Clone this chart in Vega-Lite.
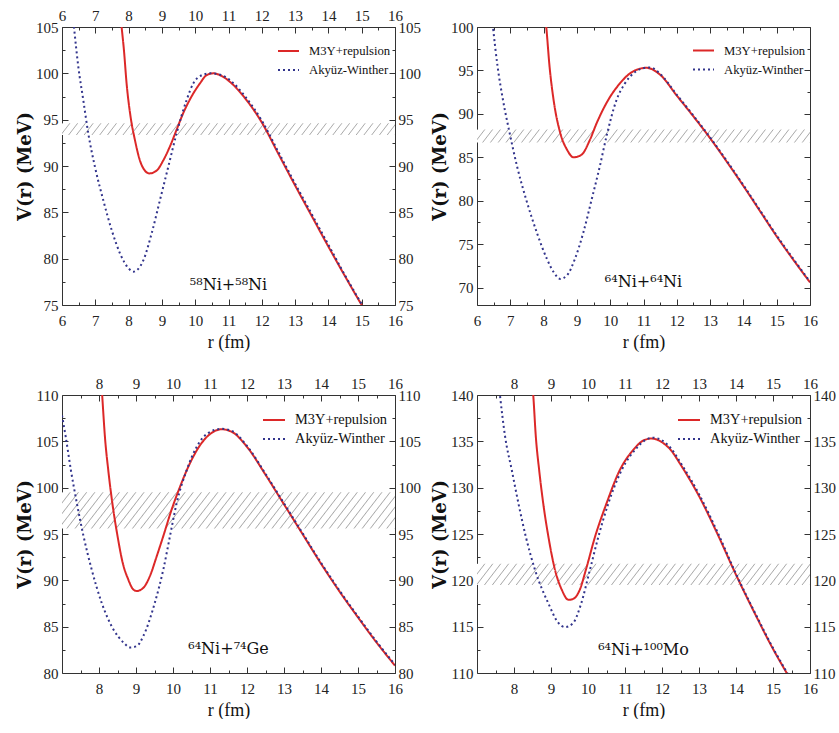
{
"$schema":"https://vega.github.io/schema/vega-lite/v6.json",
"background":"white",
"padding":{"left":16,"top":5,"right":0,"bottom":0},
"datasets":{
"bands":[
{"p":1,"r0":6,"r1":16,"v0":93.35,"v1":94.6},
{"p":2,"r0":6,"r1":16,"v0":86.7,"v1":88.2},
{"p":3,"r0":7,"r1":16,"v0":95.6,"v1":99.5},
{"p":4,"r0":7,"r1":16,"v0":119.5,"v1":121.8}],
"labels":[
{"p":1,"r":11.0,"V":77.15,"label":"⁵⁸Ni+⁵⁸Ni"},
{"p":2,"r":11.0,"V":70.6,"label":"⁶⁴Ni+⁶⁴Ni"},
{"p":3,"r":11.5,"V":82.6,"label":"⁶⁴Ni+⁷⁴Ge"},
{"p":4,"r":11.5,"V":112.5,"label":"⁶⁴Ni+¹⁰⁰Mo"}],
"c1":[
{"model":"M3Y+repulsion","r":7.72,"V":107.5},{"model":"M3Y+repulsion","r":7.79,"V":105.0},{"model":"M3Y+repulsion","r":7.86,"V":102.5},{"model":"M3Y+repulsion","r":7.94,"V":98.9},{"model":"M3Y+repulsion","r":8.06,"V":95.3},{"model":"M3Y+repulsion","r":8.19,"V":92.8},{"model":"M3Y+repulsion","r":8.34,"V":90.6},{"model":"M3Y+repulsion","r":8.49,"V":89.5},{"model":"M3Y+repulsion","r":8.62,"V":89.2},{"model":"M3Y+repulsion","r":8.84,"V":89.5},{"model":"M3Y+repulsion","r":9.04,"V":90.6},{"model":"M3Y+repulsion","r":9.24,"V":92.1},{"model":"M3Y+repulsion","r":9.44,"V":93.9},{"model":"M3Y+repulsion","r":9.64,"V":95.7},{"model":"M3Y+repulsion","r":9.89,"V":97.5},{"model":"M3Y+repulsion","r":10.14,"V":98.9},{"model":"M3Y+repulsion","r":10.34,"V":99.8},{"model":"M3Y+repulsion","r":10.54,"V":100.0},{"model":"M3Y+repulsion","r":10.8,"V":99.7},{"model":"M3Y+repulsion","r":11.1,"V":98.9},{"model":"M3Y+repulsion","r":11.5,"V":97.3},{"model":"M3Y+repulsion","r":12.0,"V":94.7},{"model":"M3Y+repulsion","r":12.5,"V":91.3},{"model":"M3Y+repulsion","r":13.0,"V":87.9},{"model":"M3Y+repulsion","r":13.5,"V":84.6},{"model":"M3Y+repulsion","r":14.0,"V":81.3},{"model":"M3Y+repulsion","r":14.5,"V":78.1},{"model":"M3Y+repulsion","r":15.0,"V":75.0},{"model":"M3Y+repulsion","r":15.1,"V":74.4},
{"model":"Akyüz-Winther","r":6.3,"V":107.2},{"model":"Akyüz-Winther","r":6.36,"V":105.0},{"model":"Akyüz-Winther","r":6.49,"V":100.7},{"model":"Akyüz-Winther","r":6.64,"V":97.1},{"model":"Akyüz-Winther","r":6.79,"V":93.5},{"model":"Akyüz-Winther","r":6.99,"V":89.9},{"model":"Akyüz-Winther","r":7.24,"V":86.3},{"model":"Akyüz-Winther","r":7.5,"V":83.0},{"model":"Akyüz-Winther","r":7.75,"V":80.5},{"model":"Akyüz-Winther","r":8.0,"V":78.95},{"model":"Akyüz-Winther","r":8.14,"V":78.6},{"model":"Akyüz-Winther","r":8.44,"V":79.8},{"model":"Akyüz-Winther","r":8.69,"V":82.7},{"model":"Akyüz-Winther","r":8.94,"V":86.3},{"model":"Akyüz-Winther","r":9.19,"V":89.9},{"model":"Akyüz-Winther","r":9.44,"V":93.5},{"model":"Akyüz-Winther","r":9.74,"V":97.1},{"model":"Akyüz-Winther","r":9.94,"V":98.9},{"model":"Akyüz-Winther","r":10.2,"V":99.8},{"model":"Akyüz-Winther","r":10.45,"V":100.0},{"model":"Akyüz-Winther","r":10.8,"V":99.8},{"model":"Akyüz-Winther","r":11.1,"V":99.1},{"model":"Akyüz-Winther","r":11.5,"V":97.5},{"model":"Akyüz-Winther","r":12.0,"V":94.9},{"model":"Akyüz-Winther","r":12.5,"V":91.5},{"model":"Akyüz-Winther","r":13.0,"V":88.1},{"model":"Akyüz-Winther","r":13.5,"V":84.8},{"model":"Akyüz-Winther","r":14.0,"V":81.5},{"model":"Akyüz-Winther","r":14.5,"V":78.2},{"model":"Akyüz-Winther","r":15.0,"V":75.1},{"model":"Akyüz-Winther","r":15.1,"V":74.5}],
"c2":[
{"model":"M3Y+repulsion","r":8.04,"V":101.5},{"model":"M3Y+repulsion","r":8.08,"V":100.0},{"model":"M3Y+repulsion","r":8.18,"V":95.4},{"model":"M3Y+repulsion","r":8.3,"V":91.6},{"model":"M3Y+repulsion","r":8.5,"V":87.8},{"model":"M3Y+repulsion","r":8.7,"V":85.9},{"model":"M3Y+repulsion","r":8.9,"V":85.0},{"model":"M3Y+repulsion","r":9.14,"V":85.3},{"model":"M3Y+repulsion","r":9.39,"V":87.0},{"model":"M3Y+repulsion","r":9.59,"V":88.9},{"model":"M3Y+repulsion","r":9.94,"V":91.6},{"model":"M3Y+repulsion","r":10.29,"V":93.5},{"model":"M3Y+repulsion","r":10.59,"V":94.65},{"model":"M3Y+repulsion","r":10.89,"V":95.2},{"model":"M3Y+repulsion","r":11.09,"V":95.3},{"model":"M3Y+repulsion","r":11.5,"V":94.5},{"model":"M3Y+repulsion","r":12.0,"V":92.1},{"model":"M3Y+repulsion","r":12.5,"V":89.7},{"model":"M3Y+repulsion","r":13.0,"V":87.2},{"model":"M3Y+repulsion","r":13.5,"V":84.5},{"model":"M3Y+repulsion","r":14.0,"V":81.7},{"model":"M3Y+repulsion","r":14.5,"V":78.8},{"model":"M3Y+repulsion","r":15.0,"V":75.9},{"model":"M3Y+repulsion","r":15.5,"V":73.2},{"model":"M3Y+repulsion","r":16.0,"V":70.6},
{"model":"Akyüz-Winther","r":6.44,"V":101.5},{"model":"Akyüz-Winther","r":6.48,"V":100.0},{"model":"Akyüz-Winther","r":6.62,"V":95.4},{"model":"Akyüz-Winther","r":6.78,"V":91.6},{"model":"Akyüz-Winther","r":6.98,"V":87.8},{"model":"Akyüz-Winther","r":7.2,"V":84.0},{"model":"Akyüz-Winther","r":7.48,"V":80.1},{"model":"Akyüz-Winther","r":7.8,"V":76.3},{"model":"Akyüz-Winther","r":8.1,"V":73.3},{"model":"Akyüz-Winther","r":8.3,"V":71.8},{"model":"Akyüz-Winther","r":8.5,"V":71.0},{"model":"Akyüz-Winther","r":8.7,"V":71.4},{"model":"Akyüz-Winther","r":8.94,"V":73.3},{"model":"Akyüz-Winther","r":9.19,"V":76.3},{"model":"Akyüz-Winther","r":9.44,"V":80.1},{"model":"Akyüz-Winther","r":9.69,"V":84.0},{"model":"Akyüz-Winther","r":9.9,"V":87.6},{"model":"Akyüz-Winther","r":10.19,"V":91.6},{"model":"Akyüz-Winther","r":10.44,"V":93.5},{"model":"Akyüz-Winther","r":10.74,"V":94.8},{"model":"Akyüz-Winther","r":10.99,"V":95.25},{"model":"Akyüz-Winther","r":11.2,"V":95.35},{"model":"Akyüz-Winther","r":11.5,"V":94.6},{"model":"Akyüz-Winther","r":12.0,"V":92.2},{"model":"Akyüz-Winther","r":12.5,"V":89.8},{"model":"Akyüz-Winther","r":13.0,"V":87.3},{"model":"Akyüz-Winther","r":13.5,"V":84.6},{"model":"Akyüz-Winther","r":14.0,"V":81.8},{"model":"Akyüz-Winther","r":14.5,"V":78.9},{"model":"Akyüz-Winther","r":15.0,"V":76.0},{"model":"Akyüz-Winther","r":15.5,"V":73.3},{"model":"Akyüz-Winther","r":16.0,"V":70.7}],
"c3":[
{"model":"M3Y+repulsion","r":8.07,"V":111.0},{"model":"M3Y+repulsion","r":8.1,"V":109.1},{"model":"M3Y+repulsion","r":8.16,"V":105.5},{"model":"M3Y+repulsion","r":8.25,"V":101.9},{"model":"M3Y+repulsion","r":8.36,"V":98.35},{"model":"M3Y+repulsion","r":8.5,"V":94.8},{"model":"M3Y+repulsion","r":8.64,"V":91.9},{"model":"M3Y+repulsion","r":8.79,"V":90.1},{"model":"M3Y+repulsion","r":8.93,"V":89.0},{"model":"M3Y+repulsion","r":9.02,"V":88.85},{"model":"M3Y+repulsion","r":9.2,"V":89.2},{"model":"M3Y+repulsion","r":9.38,"V":90.5},{"model":"M3Y+repulsion","r":9.56,"V":92.6},{"model":"M3Y+repulsion","r":9.74,"V":94.8},{"model":"M3Y+repulsion","r":9.96,"V":97.6},{"model":"M3Y+repulsion","r":10.19,"V":100.1},{"model":"M3Y+repulsion","r":10.46,"V":102.65},{"model":"M3Y+repulsion","r":10.77,"V":104.8},{"model":"M3Y+repulsion","r":11.04,"V":105.9},{"model":"M3Y+repulsion","r":11.31,"V":106.3},{"model":"M3Y+repulsion","r":11.6,"V":106.0},{"model":"M3Y+repulsion","r":12.0,"V":104.4},{"model":"M3Y+repulsion","r":12.5,"V":101.4},{"model":"M3Y+repulsion","r":13.0,"V":98.2},{"model":"M3Y+repulsion","r":13.5,"V":95.0},{"model":"M3Y+repulsion","r":14.0,"V":91.8},{"model":"M3Y+repulsion","r":14.5,"V":88.8},{"model":"M3Y+repulsion","r":15.0,"V":86.0},{"model":"M3Y+repulsion","r":15.5,"V":83.3},{"model":"M3Y+repulsion","r":16.0,"V":80.8},
{"model":"Akyüz-Winther","r":7.0,"V":107.8},{"model":"Akyüz-Winther","r":7.1,"V":105.5},{"model":"Akyüz-Winther","r":7.24,"V":101.9},{"model":"Akyüz-Winther","r":7.4,"V":98.35},{"model":"Akyüz-Winther","r":7.58,"V":94.8},{"model":"Akyüz-Winther","r":7.8,"V":91.2},{"model":"Akyüz-Winther","r":8.07,"V":87.6},{"model":"Akyüz-Winther","r":8.39,"V":84.7},{"model":"Akyüz-Winther","r":8.66,"V":83.3},{"model":"Akyüz-Winther","r":8.84,"V":82.76},{"model":"Akyüz-Winther","r":9.02,"V":82.9},{"model":"Akyüz-Winther","r":9.2,"V":84.0},{"model":"Akyüz-Winther","r":9.51,"V":87.6},{"model":"Akyüz-Winther","r":9.74,"V":91.2},{"model":"Akyüz-Winther","r":9.92,"V":94.8},{"model":"Akyüz-Winther","r":10.1,"V":98.35},{"model":"Akyüz-Winther","r":10.37,"V":101.9},{"model":"Akyüz-Winther","r":10.64,"V":104.4},{"model":"Akyüz-Winther","r":10.95,"V":105.9},{"model":"Akyüz-Winther","r":11.31,"V":106.35},{"model":"Akyüz-Winther","r":11.6,"V":106.1},{"model":"Akyüz-Winther","r":12.0,"V":104.5},{"model":"Akyüz-Winther","r":12.5,"V":101.5},{"model":"Akyüz-Winther","r":13.0,"V":98.3},{"model":"Akyüz-Winther","r":13.5,"V":95.1},{"model":"Akyüz-Winther","r":14.0,"V":91.9},{"model":"Akyüz-Winther","r":14.5,"V":88.9},{"model":"Akyüz-Winther","r":15.0,"V":86.1},{"model":"Akyüz-Winther","r":15.5,"V":83.4},{"model":"Akyüz-Winther","r":16.0,"V":80.9}],
"c4":[
{"model":"M3Y+repulsion","r":8.5,"V":141.0},{"model":"M3Y+repulsion","r":8.52,"V":140.0},{"model":"M3Y+repulsion","r":8.59,"V":135.5},{"model":"M3Y+repulsion","r":8.68,"V":131.9},{"model":"M3Y+repulsion","r":8.79,"V":128.3},{"model":"M3Y+repulsion","r":8.93,"V":124.7},{"model":"M3Y+repulsion","r":9.11,"V":121.1},{"model":"M3Y+repulsion","r":9.29,"V":119.0},{"model":"M3Y+repulsion","r":9.47,"V":117.9},{"model":"M3Y+repulsion","r":9.6,"V":118.0},{"model":"M3Y+repulsion","r":9.78,"V":119.0},{"model":"M3Y+repulsion","r":9.94,"V":121.1},{"model":"M3Y+repulsion","r":10.19,"V":124.7},{"model":"M3Y+repulsion","r":10.5,"V":128.3},{"model":"M3Y+repulsion","r":10.86,"V":131.9},{"model":"M3Y+repulsion","r":11.23,"V":134.1},{"model":"M3Y+repulsion","r":11.5,"V":135.1},{"model":"M3Y+repulsion","r":11.72,"V":135.3},{"model":"M3Y+repulsion","r":12.0,"V":134.9},{"model":"M3Y+repulsion","r":12.25,"V":134.0},{"model":"M3Y+repulsion","r":12.5,"V":132.5},{"model":"M3Y+repulsion","r":13.0,"V":129.1},{"model":"M3Y+repulsion","r":13.5,"V":125.0},{"model":"M3Y+repulsion","r":14.0,"V":120.6},{"model":"M3Y+repulsion","r":14.5,"V":116.5},{"model":"M3Y+repulsion","r":15.0,"V":112.6},{"model":"M3Y+repulsion","r":15.37,"V":110.0},{"model":"M3Y+repulsion","r":15.5,"V":109.1},
{"model":"Akyüz-Winther","r":7.58,"V":141.5},{"model":"Akyüz-Winther","r":7.62,"V":140.0},{"model":"Akyüz-Winther","r":7.76,"V":135.5},{"model":"Akyüz-Winther","r":7.94,"V":131.9},{"model":"Akyüz-Winther","r":8.12,"V":128.3},{"model":"Akyüz-Winther","r":8.32,"V":124.7},{"model":"Akyüz-Winther","r":8.57,"V":121.1},{"model":"Akyüz-Winther","r":8.93,"V":117.5},{"model":"Akyüz-Winther","r":9.2,"V":115.4},{"model":"Akyüz-Winther","r":9.38,"V":114.95},{"model":"Akyüz-Winther","r":9.6,"V":115.4},{"model":"Akyüz-Winther","r":9.8,"V":117.3},{"model":"Akyüz-Winther","r":10.05,"V":121.1},{"model":"Akyüz-Winther","r":10.28,"V":124.7},{"model":"Akyüz-Winther","r":10.55,"V":128.3},{"model":"Akyüz-Winther","r":10.91,"V":131.9},{"model":"Akyüz-Winther","r":11.32,"V":134.3},{"model":"Akyüz-Winther","r":11.5,"V":135.0},{"model":"Akyüz-Winther","r":11.75,"V":135.4},{"model":"Akyüz-Winther","r":12.0,"V":135.1},{"model":"Akyüz-Winther","r":12.25,"V":134.2},{"model":"Akyüz-Winther","r":12.5,"V":132.7},{"model":"Akyüz-Winther","r":13.0,"V":129.3},{"model":"Akyüz-Winther","r":13.5,"V":125.2},{"model":"Akyüz-Winther","r":14.0,"V":120.7},{"model":"Akyüz-Winther","r":14.5,"V":116.6},{"model":"Akyüz-Winther","r":15.0,"V":112.7},{"model":"Akyüz-Winther","r":15.37,"V":110.1},{"model":"Akyüz-Winther","r":15.5,"V":109.2}]
},
"columns":2,
"spacing":{"row":90,"column":82},
"bounds":"flush",
"resolve":{"scale":{"color":"independent","strokeDash":"independent"},"legend":{"color":"independent","strokeDash":"independent"}},
"concat":[
{"width":333,"height":278,
"resolve":{"axis":{"x":"independent","y":"independent"}},
"layer":[
{"data":{"name":"bands"},"transform":[{"filter":"datum.p == 1"}],
"mark":{"type":"rect","fill":{"gradient":"linear","x1":0,"y1":0,"x2":1.0261,"y2":0.0275,"stops":[{"offset":0,"color":"#aaa"},{"offset":0.003,"color":"#fff"},{"offset":0.0197,"color":"#fff"},{"offset":0.0227,"color":"#aaa"},{"offset":0.0257,"color":"#fff"},{"offset":0.0425,"color":"#fff"},{"offset":0.0455,"color":"#aaa"},{"offset":0.0485,"color":"#fff"},{"offset":0.0652,"color":"#fff"},{"offset":0.0682,"color":"#aaa"},{"offset":0.0712,"color":"#fff"},{"offset":0.0879,"color":"#fff"},{"offset":0.0909,"color":"#aaa"},{"offset":0.0939,"color":"#fff"},{"offset":0.1106,"color":"#fff"},{"offset":0.1136,"color":"#aaa"},{"offset":0.1166,"color":"#fff"},{"offset":0.1334,"color":"#fff"},{"offset":0.1364,"color":"#aaa"},{"offset":0.1394,"color":"#fff"},{"offset":0.1561,"color":"#fff"},{"offset":0.1591,"color":"#aaa"},{"offset":0.1621,"color":"#fff"},{"offset":0.1788,"color":"#fff"},{"offset":0.1818,"color":"#aaa"},{"offset":0.1848,"color":"#fff"},{"offset":0.2015,"color":"#fff"},{"offset":0.2045,"color":"#aaa"},{"offset":0.2075,"color":"#fff"},{"offset":0.2243,"color":"#fff"},{"offset":0.2273,"color":"#aaa"},{"offset":0.2303,"color":"#fff"},{"offset":0.247,"color":"#fff"},{"offset":0.25,"color":"#aaa"},{"offset":0.253,"color":"#fff"},{"offset":0.2697,"color":"#fff"},{"offset":0.2727,"color":"#aaa"},{"offset":0.2757,"color":"#fff"},{"offset":0.2925,"color":"#fff"},{"offset":0.2955,"color":"#aaa"},{"offset":0.2985,"color":"#fff"},{"offset":0.3152,"color":"#fff"},{"offset":0.3182,"color":"#aaa"},{"offset":0.3212,"color":"#fff"},{"offset":0.3379,"color":"#fff"},{"offset":0.3409,"color":"#aaa"},{"offset":0.3439,"color":"#fff"},{"offset":0.3606,"color":"#fff"},{"offset":0.3636,"color":"#aaa"},{"offset":0.3666,"color":"#fff"},{"offset":0.3834,"color":"#fff"},{"offset":0.3864,"color":"#aaa"},{"offset":0.3894,"color":"#fff"},{"offset":0.4061,"color":"#fff"},{"offset":0.4091,"color":"#aaa"},{"offset":0.4121,"color":"#fff"},{"offset":0.4288,"color":"#fff"},{"offset":0.4318,"color":"#aaa"},{"offset":0.4348,"color":"#fff"},{"offset":0.4515,"color":"#fff"},{"offset":0.4545,"color":"#aaa"},{"offset":0.4575,"color":"#fff"},{"offset":0.4743,"color":"#fff"},{"offset":0.4773,"color":"#aaa"},{"offset":0.4803,"color":"#fff"},{"offset":0.497,"color":"#fff"},{"offset":0.5,"color":"#aaa"},{"offset":0.503,"color":"#fff"},{"offset":0.5197,"color":"#fff"},{"offset":0.5227,"color":"#aaa"},{"offset":0.5257,"color":"#fff"},{"offset":0.5425,"color":"#fff"},{"offset":0.5455,"color":"#aaa"},{"offset":0.5485,"color":"#fff"},{"offset":0.5652,"color":"#fff"},{"offset":0.5682,"color":"#aaa"},{"offset":0.5712,"color":"#fff"},{"offset":0.5879,"color":"#fff"},{"offset":0.5909,"color":"#aaa"},{"offset":0.5939,"color":"#fff"},{"offset":0.6106,"color":"#fff"},{"offset":0.6136,"color":"#aaa"},{"offset":0.6166,"color":"#fff"},{"offset":0.6334,"color":"#fff"},{"offset":0.6364,"color":"#aaa"},{"offset":0.6394,"color":"#fff"},{"offset":0.6561,"color":"#fff"},{"offset":0.6591,"color":"#aaa"},{"offset":0.6621,"color":"#fff"},{"offset":0.6788,"color":"#fff"},{"offset":0.6818,"color":"#aaa"},{"offset":0.6848,"color":"#fff"},{"offset":0.7015,"color":"#fff"},{"offset":0.7045,"color":"#aaa"},{"offset":0.7075,"color":"#fff"},{"offset":0.7243,"color":"#fff"},{"offset":0.7273,"color":"#aaa"},{"offset":0.7303,"color":"#fff"},{"offset":0.747,"color":"#fff"},{"offset":0.75,"color":"#aaa"},{"offset":0.753,"color":"#fff"},{"offset":0.7697,"color":"#fff"},{"offset":0.7727,"color":"#aaa"},{"offset":0.7757,"color":"#fff"},{"offset":0.7925,"color":"#fff"},{"offset":0.7955,"color":"#aaa"},{"offset":0.7985,"color":"#fff"},{"offset":0.8152,"color":"#fff"},{"offset":0.8182,"color":"#aaa"},{"offset":0.8212,"color":"#fff"},{"offset":0.8379,"color":"#fff"},{"offset":0.8409,"color":"#aaa"},{"offset":0.8439,"color":"#fff"},{"offset":0.8606,"color":"#fff"},{"offset":0.8636,"color":"#aaa"},{"offset":0.8666,"color":"#fff"},{"offset":0.8834,"color":"#fff"},{"offset":0.8864,"color":"#aaa"},{"offset":0.8894,"color":"#fff"},{"offset":0.9061,"color":"#fff"},{"offset":0.9091,"color":"#aaa"},{"offset":0.9121,"color":"#fff"},{"offset":0.9288,"color":"#fff"},{"offset":0.9318,"color":"#aaa"},{"offset":0.9348,"color":"#fff"},{"offset":0.9515,"color":"#fff"},{"offset":0.9545,"color":"#aaa"},{"offset":0.9575,"color":"#fff"},{"offset":0.9743,"color":"#fff"},{"offset":0.9773,"color":"#aaa"},{"offset":0.9803,"color":"#fff"},{"offset":0.997,"color":"#fff"},{"offset":1,"color":"#aaa"}]}},
"encoding":{
"x":{"field":"r0","type":"quantitative","scale":{"domain":[6,16],"nice":false,"zero":false},"axis":{"orient":"top","title":null,"values":[6,6.5,7,7.5,8,8.5,9,9.5,10,10.5,11,11.5,12,12.5,13,13.5,14,14.5,15,15.5,16],"tickSize":{"condition":{"test":"datum.value % 1 === 0","value":-6},"value":-3},"labelExpr":"datum.value % 1 === 0 ? format(datum.value, 'd') : ''"}},
"x2":{"field":"r1"},
"y":{"field":"v0","type":"quantitative","scale":{"domain":[75,105],"nice":false,"zero":false},"axis":{"orient":"right","title":null,"values":[75,77.5,80,82.5,85,87.5,90,92.5,95,97.5,100,102.5,105],"tickSize":{"condition":{"test":"datum.value % 5 === 0","value":-6},"value":-3},"labelExpr":"datum.value % 5 === 0 ? format(datum.value, 'd') : ''"}},
"y2":{"field":"v1"}}},
{"data":{"name":"c1"},
"mark":{"type":"line","clip":true,"strokeWidth":2,"interpolate":"monotone"},
"encoding":{
"x":{"field":"r","type":"quantitative","scale":{"domain":[6,16],"nice":false,"zero":false},"axis":{"orient":"bottom","title":"r (fm)","values":[6,6.5,7,7.5,8,8.5,9,9.5,10,10.5,11,11.5,12,12.5,13,13.5,14,14.5,15,15.5,16],"tickSize":{"condition":{"test":"datum.value % 1 === 0","value":-6},"value":-3},"labelExpr":"datum.value % 1 === 0 ? format(datum.value, 'd') : ''"}},
"y":{"field":"V","type":"quantitative","scale":{"domain":[75,105],"nice":false,"zero":false},"axis":{"orient":"left","title":"V(r) (MeV)","values":[75,77.5,80,82.5,85,87.5,90,92.5,95,97.5,100,102.5,105],"tickSize":{"condition":{"test":"datum.value % 5 === 0","value":-6},"value":-3},"labelExpr":"datum.value % 5 === 0 ? format(datum.value, 'd') : ''"}},
"color":{"field":"model","type":"nominal","scale":{"domain":["M3Y+repulsion","Akyüz-Winther"],"range":["#dc2828","#32348c"]},"legend":{"title":null,"orient":"none","legendX":215,"legendY":12.5,"labelFont":"Liberation Serif","labelFontSize":12.7,"symbolSize":441}},
"strokeDash":{"field":"model","type":"nominal","scale":{"domain":["M3Y+repulsion","Akyüz-Winther"],"range":[[1,0],[2,3]]},"legend":{"title":null,"orient":"none","legendX":215,"legendY":12.5,"labelFont":"Liberation Serif","labelFontSize":12.7,"symbolSize":441}}}},
{"data":{"name":"labels"},"transform":[{"filter":"datum.p == 1"}],
"mark":{"type":"text","font":"DejaVu Serif","fontSize":16,"color":"#111"},
"encoding":{
"x":{"field":"r","type":"quantitative","scale":{"domain":[6,16],"nice":false,"zero":false},"axis":null},
"y":{"field":"V","type":"quantitative","scale":{"domain":[75,105],"nice":false,"zero":false},"axis":null},
"text":{"field":"label"}}}]},
{"width":333,"height":278,
"resolve":{"axis":{"x":"independent","y":"independent"}},
"layer":[
{"data":{"name":"bands"},"transform":[{"filter":"datum.p == 2"}],
"mark":{"type":"rect","fill":{"gradient":"linear","x1":0,"y1":0,"x2":1.0292,"y2":0.031,"stops":[{"offset":0,"color":"#aaa"},{"offset":0.003,"color":"#fff"},{"offset":0.0197,"color":"#fff"},{"offset":0.0227,"color":"#aaa"},{"offset":0.0257,"color":"#fff"},{"offset":0.0425,"color":"#fff"},{"offset":0.0455,"color":"#aaa"},{"offset":0.0485,"color":"#fff"},{"offset":0.0652,"color":"#fff"},{"offset":0.0682,"color":"#aaa"},{"offset":0.0712,"color":"#fff"},{"offset":0.0879,"color":"#fff"},{"offset":0.0909,"color":"#aaa"},{"offset":0.0939,"color":"#fff"},{"offset":0.1106,"color":"#fff"},{"offset":0.1136,"color":"#aaa"},{"offset":0.1166,"color":"#fff"},{"offset":0.1334,"color":"#fff"},{"offset":0.1364,"color":"#aaa"},{"offset":0.1394,"color":"#fff"},{"offset":0.1561,"color":"#fff"},{"offset":0.1591,"color":"#aaa"},{"offset":0.1621,"color":"#fff"},{"offset":0.1788,"color":"#fff"},{"offset":0.1818,"color":"#aaa"},{"offset":0.1848,"color":"#fff"},{"offset":0.2015,"color":"#fff"},{"offset":0.2045,"color":"#aaa"},{"offset":0.2075,"color":"#fff"},{"offset":0.2243,"color":"#fff"},{"offset":0.2273,"color":"#aaa"},{"offset":0.2303,"color":"#fff"},{"offset":0.247,"color":"#fff"},{"offset":0.25,"color":"#aaa"},{"offset":0.253,"color":"#fff"},{"offset":0.2697,"color":"#fff"},{"offset":0.2727,"color":"#aaa"},{"offset":0.2757,"color":"#fff"},{"offset":0.2925,"color":"#fff"},{"offset":0.2955,"color":"#aaa"},{"offset":0.2985,"color":"#fff"},{"offset":0.3152,"color":"#fff"},{"offset":0.3182,"color":"#aaa"},{"offset":0.3212,"color":"#fff"},{"offset":0.3379,"color":"#fff"},{"offset":0.3409,"color":"#aaa"},{"offset":0.3439,"color":"#fff"},{"offset":0.3606,"color":"#fff"},{"offset":0.3636,"color":"#aaa"},{"offset":0.3666,"color":"#fff"},{"offset":0.3834,"color":"#fff"},{"offset":0.3864,"color":"#aaa"},{"offset":0.3894,"color":"#fff"},{"offset":0.4061,"color":"#fff"},{"offset":0.4091,"color":"#aaa"},{"offset":0.4121,"color":"#fff"},{"offset":0.4288,"color":"#fff"},{"offset":0.4318,"color":"#aaa"},{"offset":0.4348,"color":"#fff"},{"offset":0.4515,"color":"#fff"},{"offset":0.4545,"color":"#aaa"},{"offset":0.4575,"color":"#fff"},{"offset":0.4743,"color":"#fff"},{"offset":0.4773,"color":"#aaa"},{"offset":0.4803,"color":"#fff"},{"offset":0.497,"color":"#fff"},{"offset":0.5,"color":"#aaa"},{"offset":0.503,"color":"#fff"},{"offset":0.5197,"color":"#fff"},{"offset":0.5227,"color":"#aaa"},{"offset":0.5257,"color":"#fff"},{"offset":0.5425,"color":"#fff"},{"offset":0.5455,"color":"#aaa"},{"offset":0.5485,"color":"#fff"},{"offset":0.5652,"color":"#fff"},{"offset":0.5682,"color":"#aaa"},{"offset":0.5712,"color":"#fff"},{"offset":0.5879,"color":"#fff"},{"offset":0.5909,"color":"#aaa"},{"offset":0.5939,"color":"#fff"},{"offset":0.6106,"color":"#fff"},{"offset":0.6136,"color":"#aaa"},{"offset":0.6166,"color":"#fff"},{"offset":0.6334,"color":"#fff"},{"offset":0.6364,"color":"#aaa"},{"offset":0.6394,"color":"#fff"},{"offset":0.6561,"color":"#fff"},{"offset":0.6591,"color":"#aaa"},{"offset":0.6621,"color":"#fff"},{"offset":0.6788,"color":"#fff"},{"offset":0.6818,"color":"#aaa"},{"offset":0.6848,"color":"#fff"},{"offset":0.7015,"color":"#fff"},{"offset":0.7045,"color":"#aaa"},{"offset":0.7075,"color":"#fff"},{"offset":0.7243,"color":"#fff"},{"offset":0.7273,"color":"#aaa"},{"offset":0.7303,"color":"#fff"},{"offset":0.747,"color":"#fff"},{"offset":0.75,"color":"#aaa"},{"offset":0.753,"color":"#fff"},{"offset":0.7697,"color":"#fff"},{"offset":0.7727,"color":"#aaa"},{"offset":0.7757,"color":"#fff"},{"offset":0.7925,"color":"#fff"},{"offset":0.7955,"color":"#aaa"},{"offset":0.7985,"color":"#fff"},{"offset":0.8152,"color":"#fff"},{"offset":0.8182,"color":"#aaa"},{"offset":0.8212,"color":"#fff"},{"offset":0.8379,"color":"#fff"},{"offset":0.8409,"color":"#aaa"},{"offset":0.8439,"color":"#fff"},{"offset":0.8606,"color":"#fff"},{"offset":0.8636,"color":"#aaa"},{"offset":0.8666,"color":"#fff"},{"offset":0.8834,"color":"#fff"},{"offset":0.8864,"color":"#aaa"},{"offset":0.8894,"color":"#fff"},{"offset":0.9061,"color":"#fff"},{"offset":0.9091,"color":"#aaa"},{"offset":0.9121,"color":"#fff"},{"offset":0.9288,"color":"#fff"},{"offset":0.9318,"color":"#aaa"},{"offset":0.9348,"color":"#fff"},{"offset":0.9515,"color":"#fff"},{"offset":0.9545,"color":"#aaa"},{"offset":0.9575,"color":"#fff"},{"offset":0.9743,"color":"#fff"},{"offset":0.9773,"color":"#aaa"},{"offset":0.9803,"color":"#fff"},{"offset":0.997,"color":"#fff"},{"offset":1,"color":"#aaa"}]}},
"encoding":{
"x":{"field":"r0","type":"quantitative","scale":{"domain":[6,16],"nice":false,"zero":false},"axis":{"orient":"top","title":null,"labels":false,"values":[6,6.5,7,7.5,8,8.5,9,9.5,10,10.5,11,11.5,12,12.5,13,13.5,14,14.5,15,15.5,16],"tickSize":{"condition":{"test":"datum.value % 1 === 0","value":-6},"value":-3}}},
"x2":{"field":"r1"},
"y":{"field":"v0","type":"quantitative","scale":{"domain":[68,100],"nice":false,"zero":false},"axis":{"orient":"right","title":null,"labels":false,"values":[70,72.5,75,77.5,80,82.5,85,87.5,90,92.5,95,97.5,100],"tickSize":{"condition":{"test":"datum.value % 5 === 0","value":-6},"value":-3}}},
"y2":{"field":"v1"}}},
{"data":{"name":"c2"},
"mark":{"type":"line","clip":true,"strokeWidth":2,"interpolate":"monotone"},
"encoding":{
"x":{"field":"r","type":"quantitative","scale":{"domain":[6,16],"nice":false,"zero":false},"axis":{"orient":"bottom","title":"r (fm)","values":[6,6.5,7,7.5,8,8.5,9,9.5,10,10.5,11,11.5,12,12.5,13,13.5,14,14.5,15,15.5,16],"tickSize":{"condition":{"test":"datum.value % 1 === 0","value":-6},"value":-3},"labelExpr":"datum.value % 1 === 0 ? format(datum.value, 'd') : ''"}},
"y":{"field":"V","type":"quantitative","scale":{"domain":[68,100],"nice":false,"zero":false},"axis":{"orient":"left","title":"V(r) (MeV)","values":[70,72.5,75,77.5,80,82.5,85,87.5,90,92.5,95,97.5,100],"tickSize":{"condition":{"test":"datum.value % 5 === 0","value":-6},"value":-3},"labelExpr":"datum.value % 5 === 0 ? format(datum.value, 'd') : ''"}},
"color":{"field":"model","type":"nominal","scale":{"domain":["M3Y+repulsion","Akyüz-Winther"],"range":["#dc2828","#32348c"]},"legend":{"title":null,"orient":"none","legendX":215,"legendY":12,"labelFont":"Liberation Serif","labelFontSize":12.7,"symbolSize":441}},
"strokeDash":{"field":"model","type":"nominal","scale":{"domain":["M3Y+repulsion","Akyüz-Winther"],"range":[[1,0],[2,3]]},"legend":{"title":null,"orient":"none","legendX":215,"legendY":12,"labelFont":"Liberation Serif","labelFontSize":12.7,"symbolSize":441}}}},
{"data":{"name":"labels"},"transform":[{"filter":"datum.p == 2"}],
"mark":{"type":"text","font":"DejaVu Serif","fontSize":16,"color":"#111"},
"encoding":{
"x":{"field":"r","type":"quantitative","scale":{"domain":[6,16],"nice":false,"zero":false},"axis":null},
"y":{"field":"V","type":"quantitative","scale":{"domain":[68,100],"nice":false,"zero":false},"axis":null},
"text":{"field":"label"}}}]},
{"width":333,"height":278,
"resolve":{"axis":{"x":"independent","y":"independent"}},
"layer":[
{"data":{"name":"bands"},"transform":[{"filter":"datum.p == 3"}],
"mark":{"type":"rect","fill":{"gradient":"linear","x1":0,"y1":0,"x2":1.0762,"y2":0.0902,"stops":[{"offset":0,"color":"#aaa"},{"offset":0.003,"color":"#fff"},{"offset":0.0197,"color":"#fff"},{"offset":0.0227,"color":"#aaa"},{"offset":0.0257,"color":"#fff"},{"offset":0.0425,"color":"#fff"},{"offset":0.0455,"color":"#aaa"},{"offset":0.0485,"color":"#fff"},{"offset":0.0652,"color":"#fff"},{"offset":0.0682,"color":"#aaa"},{"offset":0.0712,"color":"#fff"},{"offset":0.0879,"color":"#fff"},{"offset":0.0909,"color":"#aaa"},{"offset":0.0939,"color":"#fff"},{"offset":0.1106,"color":"#fff"},{"offset":0.1136,"color":"#aaa"},{"offset":0.1166,"color":"#fff"},{"offset":0.1334,"color":"#fff"},{"offset":0.1364,"color":"#aaa"},{"offset":0.1394,"color":"#fff"},{"offset":0.1561,"color":"#fff"},{"offset":0.1591,"color":"#aaa"},{"offset":0.1621,"color":"#fff"},{"offset":0.1788,"color":"#fff"},{"offset":0.1818,"color":"#aaa"},{"offset":0.1848,"color":"#fff"},{"offset":0.2015,"color":"#fff"},{"offset":0.2045,"color":"#aaa"},{"offset":0.2075,"color":"#fff"},{"offset":0.2243,"color":"#fff"},{"offset":0.2273,"color":"#aaa"},{"offset":0.2303,"color":"#fff"},{"offset":0.247,"color":"#fff"},{"offset":0.25,"color":"#aaa"},{"offset":0.253,"color":"#fff"},{"offset":0.2697,"color":"#fff"},{"offset":0.2727,"color":"#aaa"},{"offset":0.2757,"color":"#fff"},{"offset":0.2925,"color":"#fff"},{"offset":0.2955,"color":"#aaa"},{"offset":0.2985,"color":"#fff"},{"offset":0.3152,"color":"#fff"},{"offset":0.3182,"color":"#aaa"},{"offset":0.3212,"color":"#fff"},{"offset":0.3379,"color":"#fff"},{"offset":0.3409,"color":"#aaa"},{"offset":0.3439,"color":"#fff"},{"offset":0.3606,"color":"#fff"},{"offset":0.3636,"color":"#aaa"},{"offset":0.3666,"color":"#fff"},{"offset":0.3834,"color":"#fff"},{"offset":0.3864,"color":"#aaa"},{"offset":0.3894,"color":"#fff"},{"offset":0.4061,"color":"#fff"},{"offset":0.4091,"color":"#aaa"},{"offset":0.4121,"color":"#fff"},{"offset":0.4288,"color":"#fff"},{"offset":0.4318,"color":"#aaa"},{"offset":0.4348,"color":"#fff"},{"offset":0.4515,"color":"#fff"},{"offset":0.4545,"color":"#aaa"},{"offset":0.4575,"color":"#fff"},{"offset":0.4743,"color":"#fff"},{"offset":0.4773,"color":"#aaa"},{"offset":0.4803,"color":"#fff"},{"offset":0.497,"color":"#fff"},{"offset":0.5,"color":"#aaa"},{"offset":0.503,"color":"#fff"},{"offset":0.5197,"color":"#fff"},{"offset":0.5227,"color":"#aaa"},{"offset":0.5257,"color":"#fff"},{"offset":0.5425,"color":"#fff"},{"offset":0.5455,"color":"#aaa"},{"offset":0.5485,"color":"#fff"},{"offset":0.5652,"color":"#fff"},{"offset":0.5682,"color":"#aaa"},{"offset":0.5712,"color":"#fff"},{"offset":0.5879,"color":"#fff"},{"offset":0.5909,"color":"#aaa"},{"offset":0.5939,"color":"#fff"},{"offset":0.6106,"color":"#fff"},{"offset":0.6136,"color":"#aaa"},{"offset":0.6166,"color":"#fff"},{"offset":0.6334,"color":"#fff"},{"offset":0.6364,"color":"#aaa"},{"offset":0.6394,"color":"#fff"},{"offset":0.6561,"color":"#fff"},{"offset":0.6591,"color":"#aaa"},{"offset":0.6621,"color":"#fff"},{"offset":0.6788,"color":"#fff"},{"offset":0.6818,"color":"#aaa"},{"offset":0.6848,"color":"#fff"},{"offset":0.7015,"color":"#fff"},{"offset":0.7045,"color":"#aaa"},{"offset":0.7075,"color":"#fff"},{"offset":0.7243,"color":"#fff"},{"offset":0.7273,"color":"#aaa"},{"offset":0.7303,"color":"#fff"},{"offset":0.747,"color":"#fff"},{"offset":0.75,"color":"#aaa"},{"offset":0.753,"color":"#fff"},{"offset":0.7697,"color":"#fff"},{"offset":0.7727,"color":"#aaa"},{"offset":0.7757,"color":"#fff"},{"offset":0.7925,"color":"#fff"},{"offset":0.7955,"color":"#aaa"},{"offset":0.7985,"color":"#fff"},{"offset":0.8152,"color":"#fff"},{"offset":0.8182,"color":"#aaa"},{"offset":0.8212,"color":"#fff"},{"offset":0.8379,"color":"#fff"},{"offset":0.8409,"color":"#aaa"},{"offset":0.8439,"color":"#fff"},{"offset":0.8606,"color":"#fff"},{"offset":0.8636,"color":"#aaa"},{"offset":0.8666,"color":"#fff"},{"offset":0.8834,"color":"#fff"},{"offset":0.8864,"color":"#aaa"},{"offset":0.8894,"color":"#fff"},{"offset":0.9061,"color":"#fff"},{"offset":0.9091,"color":"#aaa"},{"offset":0.9121,"color":"#fff"},{"offset":0.9288,"color":"#fff"},{"offset":0.9318,"color":"#aaa"},{"offset":0.9348,"color":"#fff"},{"offset":0.9515,"color":"#fff"},{"offset":0.9545,"color":"#aaa"},{"offset":0.9575,"color":"#fff"},{"offset":0.9743,"color":"#fff"},{"offset":0.9773,"color":"#aaa"},{"offset":0.9803,"color":"#fff"},{"offset":0.997,"color":"#fff"},{"offset":1,"color":"#aaa"}]}},
"encoding":{
"x":{"field":"r0","type":"quantitative","scale":{"domain":[7,16],"nice":false,"zero":false},"axis":{"orient":"top","title":null,"values":[7.5,8,8.5,9,9.5,10,10.5,11,11.5,12,12.5,13,13.5,14,14.5,15,15.5,16],"tickSize":{"condition":{"test":"datum.value % 1 === 0","value":-6},"value":-3},"labelExpr":"datum.value % 1 === 0 ? format(datum.value, 'd') : ''"}},
"x2":{"field":"r1"},
"y":{"field":"v0","type":"quantitative","scale":{"domain":[80,110],"nice":false,"zero":false},"axis":{"orient":"right","title":null,"values":[80,82.5,85,87.5,90,92.5,95,97.5,100,102.5,105,107.5,110],"tickSize":{"condition":{"test":"datum.value % 5 === 0","value":-6},"value":-3},"labelExpr":"datum.value % 5 === 0 ? format(datum.value, 'd') : ''"}},
"y2":{"field":"v1"}}},
{"data":{"name":"c3"},
"mark":{"type":"line","clip":true,"strokeWidth":2,"interpolate":"monotone"},
"encoding":{
"x":{"field":"r","type":"quantitative","scale":{"domain":[7,16],"nice":false,"zero":false},"axis":{"orient":"bottom","title":"r (fm)","values":[7.5,8,8.5,9,9.5,10,10.5,11,11.5,12,12.5,13,13.5,14,14.5,15,15.5,16],"tickSize":{"condition":{"test":"datum.value % 1 === 0","value":-6},"value":-3},"labelExpr":"datum.value % 1 === 0 ? format(datum.value, 'd') : ''"}},
"y":{"field":"V","type":"quantitative","scale":{"domain":[80,110],"nice":false,"zero":false},"axis":{"orient":"left","title":"V(r) (MeV)","values":[80,82.5,85,87.5,90,92.5,95,97.5,100,102.5,105,107.5,110],"tickSize":{"condition":{"test":"datum.value % 5 === 0","value":-6},"value":-3},"labelExpr":"datum.value % 5 === 0 ? format(datum.value, 'd') : ''"}},
"color":{"field":"model","type":"nominal","scale":{"domain":["M3Y+repulsion","Akyüz-Winther"],"range":["#dc2828","#32348c"]},"legend":{"title":null,"orient":"none","legendX":200,"legendY":13,"labelFont":"Liberation Serif","labelFontSize":14.4,"symbolSize":484}},
"strokeDash":{"field":"model","type":"nominal","scale":{"domain":["M3Y+repulsion","Akyüz-Winther"],"range":[[1,0],[2,3]]},"legend":{"title":null,"orient":"none","legendX":200,"legendY":13,"labelFont":"Liberation Serif","labelFontSize":14.4,"symbolSize":484}}}},
{"data":{"name":"labels"},"transform":[{"filter":"datum.p == 3"}],
"mark":{"type":"text","font":"DejaVu Serif","fontSize":16,"color":"#111"},
"encoding":{
"x":{"field":"r","type":"quantitative","scale":{"domain":[7,16],"nice":false,"zero":false},"axis":null},
"y":{"field":"V","type":"quantitative","scale":{"domain":[80,110],"nice":false,"zero":false},"axis":null},
"text":{"field":"label"}}}]},
{"width":333,"height":278,
"resolve":{"axis":{"x":"independent","y":"independent"}},
"layer":[
{"data":{"name":"bands"},"transform":[{"filter":"datum.p == 4"}],
"mark":{"type":"rect","fill":{"gradient":"linear","x1":0,"y1":0,"x2":1.0467,"y2":0.0515,"stops":[{"offset":0,"color":"#aaa"},{"offset":0.003,"color":"#fff"},{"offset":0.0197,"color":"#fff"},{"offset":0.0227,"color":"#aaa"},{"offset":0.0257,"color":"#fff"},{"offset":0.0425,"color":"#fff"},{"offset":0.0455,"color":"#aaa"},{"offset":0.0485,"color":"#fff"},{"offset":0.0652,"color":"#fff"},{"offset":0.0682,"color":"#aaa"},{"offset":0.0712,"color":"#fff"},{"offset":0.0879,"color":"#fff"},{"offset":0.0909,"color":"#aaa"},{"offset":0.0939,"color":"#fff"},{"offset":0.1106,"color":"#fff"},{"offset":0.1136,"color":"#aaa"},{"offset":0.1166,"color":"#fff"},{"offset":0.1334,"color":"#fff"},{"offset":0.1364,"color":"#aaa"},{"offset":0.1394,"color":"#fff"},{"offset":0.1561,"color":"#fff"},{"offset":0.1591,"color":"#aaa"},{"offset":0.1621,"color":"#fff"},{"offset":0.1788,"color":"#fff"},{"offset":0.1818,"color":"#aaa"},{"offset":0.1848,"color":"#fff"},{"offset":0.2015,"color":"#fff"},{"offset":0.2045,"color":"#aaa"},{"offset":0.2075,"color":"#fff"},{"offset":0.2243,"color":"#fff"},{"offset":0.2273,"color":"#aaa"},{"offset":0.2303,"color":"#fff"},{"offset":0.247,"color":"#fff"},{"offset":0.25,"color":"#aaa"},{"offset":0.253,"color":"#fff"},{"offset":0.2697,"color":"#fff"},{"offset":0.2727,"color":"#aaa"},{"offset":0.2757,"color":"#fff"},{"offset":0.2925,"color":"#fff"},{"offset":0.2955,"color":"#aaa"},{"offset":0.2985,"color":"#fff"},{"offset":0.3152,"color":"#fff"},{"offset":0.3182,"color":"#aaa"},{"offset":0.3212,"color":"#fff"},{"offset":0.3379,"color":"#fff"},{"offset":0.3409,"color":"#aaa"},{"offset":0.3439,"color":"#fff"},{"offset":0.3606,"color":"#fff"},{"offset":0.3636,"color":"#aaa"},{"offset":0.3666,"color":"#fff"},{"offset":0.3834,"color":"#fff"},{"offset":0.3864,"color":"#aaa"},{"offset":0.3894,"color":"#fff"},{"offset":0.4061,"color":"#fff"},{"offset":0.4091,"color":"#aaa"},{"offset":0.4121,"color":"#fff"},{"offset":0.4288,"color":"#fff"},{"offset":0.4318,"color":"#aaa"},{"offset":0.4348,"color":"#fff"},{"offset":0.4515,"color":"#fff"},{"offset":0.4545,"color":"#aaa"},{"offset":0.4575,"color":"#fff"},{"offset":0.4743,"color":"#fff"},{"offset":0.4773,"color":"#aaa"},{"offset":0.4803,"color":"#fff"},{"offset":0.497,"color":"#fff"},{"offset":0.5,"color":"#aaa"},{"offset":0.503,"color":"#fff"},{"offset":0.5197,"color":"#fff"},{"offset":0.5227,"color":"#aaa"},{"offset":0.5257,"color":"#fff"},{"offset":0.5425,"color":"#fff"},{"offset":0.5455,"color":"#aaa"},{"offset":0.5485,"color":"#fff"},{"offset":0.5652,"color":"#fff"},{"offset":0.5682,"color":"#aaa"},{"offset":0.5712,"color":"#fff"},{"offset":0.5879,"color":"#fff"},{"offset":0.5909,"color":"#aaa"},{"offset":0.5939,"color":"#fff"},{"offset":0.6106,"color":"#fff"},{"offset":0.6136,"color":"#aaa"},{"offset":0.6166,"color":"#fff"},{"offset":0.6334,"color":"#fff"},{"offset":0.6364,"color":"#aaa"},{"offset":0.6394,"color":"#fff"},{"offset":0.6561,"color":"#fff"},{"offset":0.6591,"color":"#aaa"},{"offset":0.6621,"color":"#fff"},{"offset":0.6788,"color":"#fff"},{"offset":0.6818,"color":"#aaa"},{"offset":0.6848,"color":"#fff"},{"offset":0.7015,"color":"#fff"},{"offset":0.7045,"color":"#aaa"},{"offset":0.7075,"color":"#fff"},{"offset":0.7243,"color":"#fff"},{"offset":0.7273,"color":"#aaa"},{"offset":0.7303,"color":"#fff"},{"offset":0.747,"color":"#fff"},{"offset":0.75,"color":"#aaa"},{"offset":0.753,"color":"#fff"},{"offset":0.7697,"color":"#fff"},{"offset":0.7727,"color":"#aaa"},{"offset":0.7757,"color":"#fff"},{"offset":0.7925,"color":"#fff"},{"offset":0.7955,"color":"#aaa"},{"offset":0.7985,"color":"#fff"},{"offset":0.8152,"color":"#fff"},{"offset":0.8182,"color":"#aaa"},{"offset":0.8212,"color":"#fff"},{"offset":0.8379,"color":"#fff"},{"offset":0.8409,"color":"#aaa"},{"offset":0.8439,"color":"#fff"},{"offset":0.8606,"color":"#fff"},{"offset":0.8636,"color":"#aaa"},{"offset":0.8666,"color":"#fff"},{"offset":0.8834,"color":"#fff"},{"offset":0.8864,"color":"#aaa"},{"offset":0.8894,"color":"#fff"},{"offset":0.9061,"color":"#fff"},{"offset":0.9091,"color":"#aaa"},{"offset":0.9121,"color":"#fff"},{"offset":0.9288,"color":"#fff"},{"offset":0.9318,"color":"#aaa"},{"offset":0.9348,"color":"#fff"},{"offset":0.9515,"color":"#fff"},{"offset":0.9545,"color":"#aaa"},{"offset":0.9575,"color":"#fff"},{"offset":0.9743,"color":"#fff"},{"offset":0.9773,"color":"#aaa"},{"offset":0.9803,"color":"#fff"},{"offset":0.997,"color":"#fff"},{"offset":1,"color":"#aaa"}]}},
"encoding":{
"x":{"field":"r0","type":"quantitative","scale":{"domain":[7,16],"nice":false,"zero":false},"axis":{"orient":"top","title":null,"values":[7.5,8,8.5,9,9.5,10,10.5,11,11.5,12,12.5,13,13.5,14,14.5,15,15.5,16],"tickSize":{"condition":{"test":"datum.value % 1 === 0","value":-6},"value":-3},"labelExpr":"datum.value % 1 === 0 ? format(datum.value, 'd') : ''"}},
"x2":{"field":"r1"},
"y":{"field":"v0","type":"quantitative","scale":{"domain":[110,140],"nice":false,"zero":false},"axis":{"orient":"right","title":null,"values":[110,112.5,115,117.5,120,122.5,125,127.5,130,132.5,135,137.5,140],"tickSize":{"condition":{"test":"datum.value % 5 === 0","value":-6},"value":-3},"labelExpr":"datum.value % 5 === 0 ? format(datum.value, 'd') : ''"}},
"y2":{"field":"v1"}}},
{"data":{"name":"c4"},
"mark":{"type":"line","clip":true,"strokeWidth":2,"interpolate":"monotone"},
"encoding":{
"x":{"field":"r","type":"quantitative","scale":{"domain":[7,16],"nice":false,"zero":false},"axis":{"orient":"bottom","title":"r (fm)","values":[7.5,8,8.5,9,9.5,10,10.5,11,11.5,12,12.5,13,13.5,14,14.5,15,15.5,16],"tickSize":{"condition":{"test":"datum.value % 1 === 0","value":-6},"value":-3},"labelExpr":"datum.value % 1 === 0 ? format(datum.value, 'd') : ''"}},
"y":{"field":"V","type":"quantitative","scale":{"domain":[110,140],"nice":false,"zero":false},"axis":{"orient":"left","title":"V(r) (MeV)","values":[110,112.5,115,117.5,120,122.5,125,127.5,130,132.5,135,137.5,140],"tickSize":{"condition":{"test":"datum.value % 5 === 0","value":-6},"value":-3},"labelExpr":"datum.value % 5 === 0 ? format(datum.value, 'd') : ''"}},
"color":{"field":"model","type":"nominal","scale":{"domain":["M3Y+repulsion","Akyüz-Winther"],"range":["#dc2828","#32348c"]},"legend":{"title":null,"orient":"none","legendX":200,"legendY":13,"labelFont":"Liberation Serif","labelFontSize":14.4,"symbolSize":484}},
"strokeDash":{"field":"model","type":"nominal","scale":{"domain":["M3Y+repulsion","Akyüz-Winther"],"range":[[1,0],[2,3]]},"legend":{"title":null,"orient":"none","legendX":200,"legendY":13,"labelFont":"Liberation Serif","labelFontSize":14.4,"symbolSize":484}}}},
{"data":{"name":"labels"},"transform":[{"filter":"datum.p == 4"}],
"mark":{"type":"text","font":"DejaVu Serif","fontSize":16,"color":"#111"},
"encoding":{
"x":{"field":"r","type":"quantitative","scale":{"domain":[7,16],"nice":false,"zero":false},"axis":null},
"y":{"field":"V","type":"quantitative","scale":{"domain":[110,140],"nice":false,"zero":false},"axis":null},
"text":{"field":"label"}}}]}
],
"config":{
"view":{"stroke":null},
"axis":{"grid":false,"labelFont":"Liberation Serif","labelFontSize":15,"labelColor":"#222","domainColor":"#333","tickColor":"#333","tickWidth":1,"domainWidth":1,"labelFlush":false,"labelOverlap":false,"labelBound":false,"titleColor":"#111"},
"axisBottom":{"labelPadding":14,"titlePadding":2},
"axisTop":{"labelPadding":10},
"axisLeft":{"labelPadding":10,"titlePadding":1},
"axisRight":{"labelPadding":9},
"axisX":{"titleFont":"Liberation Serif","titleFontSize":18,"titleFontWeight":"normal"},
"axisY":{"titleFont":"DejaVu Serif","titleFontSize":18,"titleFontWeight":"bold"},
"legend":{"labelFont":"Liberation Serif","labelColor":"#111","symbolType":"stroke","symbolStrokeWidth":2,"labelOffset":9,"rowPadding":0,"padding":0}
}
}
